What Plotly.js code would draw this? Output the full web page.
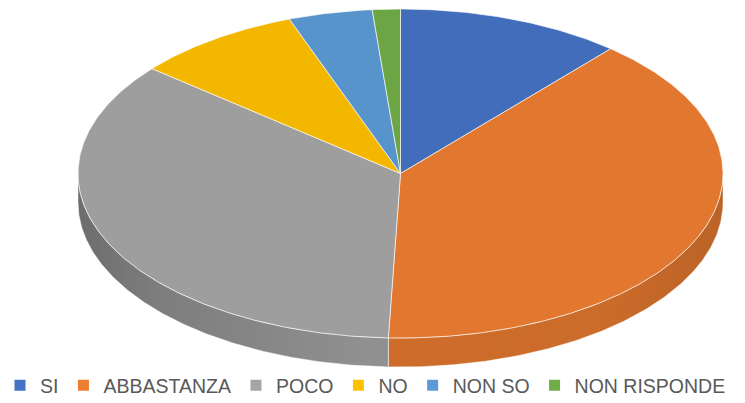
<!DOCTYPE html>
<html><head><meta charset="utf-8">
<script src="https://cdn.plot.ly/plotly-3.0.1.min.js"></script>
<style>html,body{margin:0;padding:0;background:#fff;} #chart{width:745px;height:403px;}</style>
</head><body><div id="chart"></div>
<script>
// ---- data ----
const categories = ['SI', 'ABBASTANZA', 'POCO', 'NO', 'NON SO', 'NON RISPONDE'];
const values = [11.3, 39.3, 35.4, 8.4, 4.2, 1.4];
const colors = ['#4472C4', '#ED7D31', '#A5A5A5', '#FFC000', '#5B9BD5', '#70AD47'];

// ---- geometry (pixel space, axes map 1:1 to pixels) ----
const W = 745, H = 403;
const CX = 400.5, CY = 173.5, RX = 322.5, RY = 164.5, DEPTH = 29;

function shade(hex, f) {
  const n = parseInt(hex.slice(1), 16);
  const r = Math.round(((n >> 16) & 255) * f), g = Math.round(((n >> 8) & 255) * f), b = Math.round((n & 255) * f);
  return 'rgb(' + Math.min(255, r) + ',' + Math.min(255, g) + ',' + Math.min(255, b) + ')';
}
function pt(theta, dy) {
  const r = theta * Math.PI / 180;
  return [CX + RX * Math.sin(r), CY - RY * Math.cos(r) + dy];
}
function arc(a, b, dy) {
  const n = Math.max(2, Math.ceil((b - a) / 0.5));
  const out = [];
  for (let i = 0; i <= n; i++) out.push(pt(a + (b - a) * i / n, dy));
  return out;
}

const total = values.reduce((s, v) => s + v, 0);
const bounds = [];
let acc = 0;
values.forEach(v => { const a = acc, b = acc + v / total * 360; bounds.push([a, b]); acc = b; });

const traces = [];
// side walls (front half only)
bounds.forEach(([a, b], i) => {
  const s = Math.max(a, 90), e = Math.min(b, 270);
  if (e <= s) return;
  const top = arc(s, e, 0), bot = arc(s, e, DEPTH).reverse();
  const p = top.concat(bot); p.push(top[0]);
  const c = colors[i];
  traces.push({
    type: 'scatter', mode: 'lines', x: p.map(q => q[0]), y: p.map(q => q[1]),
    fill: 'toself', fillcolor: shade(c, 0.85),
    fillgradient: { type: 'horizontal', start: CX - RX, stop: CX + RX,
      colorscale: [[0, shade(c, 0.66)], [0.12, shade(c, 0.76)], [0.45, shade(c, 0.87)], [0.8, shade(c, 0.86)], [1, shade(c, 0.79)]] },
    line: { color: 'rgba(255,255,255,0.6)', width: 0.8 },
    hoverinfo: 'skip', showlegend: false
  });
});
// top faces
bounds.forEach(([a, b], i) => {
  const p = [[CX, CY]].concat(arc(a, b, 0)); p.push([CX, CY]);
  traces.push({
    type: 'scatter', mode: 'lines', x: p.map(q => q[0]), y: p.map(q => q[1]),
    fill: 'toself', fillcolor: shade(colors[i], 0.955),
    line: { color: 'rgba(255,255,255,0.7)', width: 0.9 },
    hoverinfo: 'skip', showlegend: false
  });
});
// legend entries
categories.forEach((c, i) => traces.push({
  type: 'scatter', mode: 'markers', x: [null], y: [null], name: c,
  marker: { symbol: 'square', size: 11, color: colors[i] }, hoverinfo: 'skip', showlegend: true
}));

const layout = {
  width: W, height: H, margin: { l: 0, r: 0, t: 0, b: 0, autoexpand: false },
  paper_bgcolor: '#ffffff', plot_bgcolor: '#ffffff',
  xaxis: { range: [0, W], visible: false, fixedrange: true },
  yaxis: { range: [H, 0], visible: false, fixedrange: true },
  showlegend: true,
  legend: { orientation: 'h', x: 0, xanchor: 'left', y: 0.043, yanchor: 'middle',
    font: { family: 'Liberation Sans, Arial, sans-serif', size: 19.5, color: '#595959' },
    bgcolor: 'rgba(0,0,0,0)', itemclick: false, itemdoubleclick: false }
};
Plotly.newPlot('chart', traces, layout, { staticPlot: true, displayModeBar: false });
</script></body></html>
